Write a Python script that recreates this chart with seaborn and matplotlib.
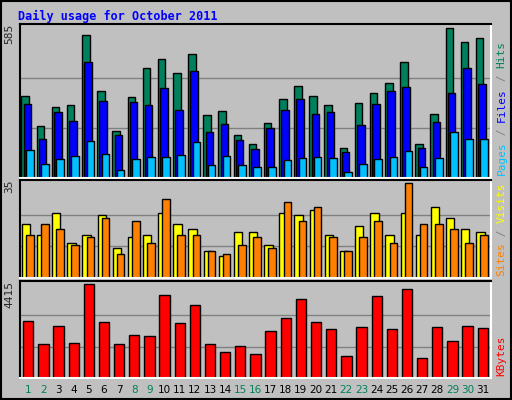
import numpy as np
import seaborn as sns
import matplotlib.pyplot as plt
from matplotlib.patches import Rectangle

days = list(range(1, 32))
hits = [321, 204, 278, 286, 559, 339, 185, 316, 430, 465, 411, 485, 247, 263, 169, 134,
        216, 309, 360, 321, 286, 118, 294, 333, 372, 455, 134, 251, 585, 533, 549]
files = [290, 153, 259, 224, 454, 302, 169, 298, 286, 352, 267, 419, 181, 211, 150, 114,
         196, 267, 310, 251, 259, 103, 208, 290, 341, 356, 118, 220, 333, 430, 368]
pages = [111, 56, 75, 87, 146, 95, 33, 75, 83, 83, 91, 142, 52, 87, 52, 44,
         44, 72, 79, 83, 79, 25, 56, 75, 83, 107, 44, 79, 181, 153, 153]
sites = [20, 16, 24, 13, 16, 23, 11, 15, 16, 24, 20, 18, 10, 8, 17, 17,
         12, 24, 23, 25, 16, 10, 19, 24, 16, 24, 16, 26, 22, 18, 17]
visits = [16, 20, 18, 12, 15, 22, 9, 21, 13, 29, 16, 16, 10, 9, 12, 15,
          11, 28, 21, 26, 15, 10, 15, 21, 13, 35, 20, 20, 18, 13, 16]
kbytes = [2668, 1601, 2426, 1650, 4415, 2620, 1601, 2038, 1989, 3881, 2571, 3444, 1601, 1213, 1504, 1116,
          2183, 2814, 3687, 2620, 2280, 1019, 2377, 3832, 2280, 4172, 922, 2377, 1746, 2426, 2329]
weekend = [1, 2, 8, 9, 15, 16, 22, 23, 29, 30]

sns.set_style("white")
plt.rcParams['font.family'] = ['DejaVu Sans Mono', 'DejaVu Sans']
silver = "#C0C0C0"
green = "#00805C"

fig = plt.figure(figsize=(5.12, 4), dpi=100, facecolor=silver)
fig.patches.append(Rectangle((0.002, 0.002), 0.996, 0.996, transform=fig.transFigure,
                             fill=False, edgecolor="black", lw=1.5))
fig.text(0.035, 0.975, "Daily usage for October 2011", color="#0000FF",
         fontsize=8.5, fontweight="bold", va="top")

d = np.array(days, dtype=float)


def panel(rect, series, top, label):
    ax = fig.add_axes(rect, facecolor=silver)
    for vals, off, w, col in series:
        sns.barplot(x=d + off, y=vals, native_scale=True, width=w, color=col,
                    edgecolor="black", linewidth=1, saturation=1, ax=ax)
    ax.set_xlim(0.45, 31.55)
    ax.set_ylim(0, top * 1.03)
    for g in (top / 3, 2 * top / 3):
        ax.axhline(g, color="#808080", lw=1, zorder=0)
    ax.set_yticks([])
    ax.set_xticks([])
    ax.set_xlabel("")
    ax.set_ylabel("")
    for s in ax.spines.values():
        s.set_color("white")
        s.set_linewidth(1.5)
    ax.spines["left"].set_color("black")
    ax.spines["top"].set_color("black")
    ax.text(-0.012, 1.0, str(label), transform=ax.transAxes, rotation=90,
            ha="right", va="top", fontsize=8)
    return ax


ax1 = panel([0.039, 0.555, 0.92, 0.385],
            [(hits, -0.2, 0.5, green), (files, -0.05, 0.5, "#0000FF"), (pages, 0.1, 0.5, "#00C0FF")],
            585, 585)
ax2 = panel([0.039, 0.305, 0.92, 0.245],
            [(sites, -0.15, 0.55, "#FFFF00"), (visits, 0.1, 0.5, "#FF8000")],
            35, 35)
ax3 = panel([0.039, 0.055, 0.92, 0.2425],
            [(kbytes, 0.0, 0.68, "#FF0000")],
            4415, 4415)

# right side legends
def side(ax, parts):
    y = 0.02
    for txt, col in parts:
        t = ax.text(1.012, y, txt, transform=ax.transAxes, rotation=90, color=col,
                    ha="left", va="bottom", fontsize=8)
        y += len(txt) * 0.6 * 8 / 72 * 100 / (ax.get_position().height * 400)


side(ax1, [("Pages", "#00C0FF"), (" / ", "#808080"), ("Files", "#0000FF"),
           (" / ", "#808080"), ("Hits", green)])
side(ax2, [("Sites", "#FF8000"), (" / ", "#808080"), ("Visits", "#FFFF00")])
side(ax3, [("KBytes", "#FF0000")])

for i in days:
    ax3.text(i, -0.07, str(i), transform=ax3.get_xaxis_transform(), ha="center",
             va="top", fontsize=7.5, color=green if i in weekend else "black",
             family=["DejaVu Sans"])

fig.savefig("out.png", dpi=100, facecolor=silver)
